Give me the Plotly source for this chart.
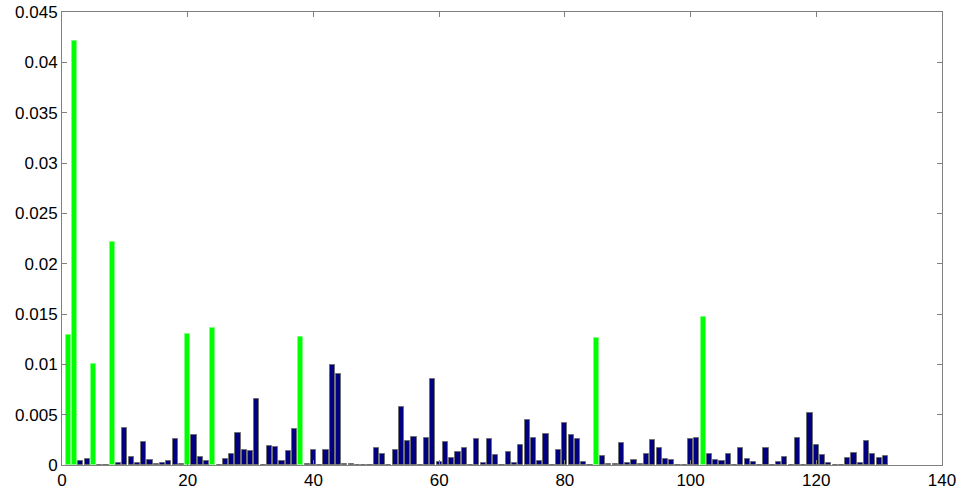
import plotly.graph_objects as go

# Bar indices 1..131
index = list(range(1, 132))

values = [
    0.0129, 0.0421, 0.00043, 0.0006, 0.0100, 0.00004, 0.00004, 0.0222, 0.0002, 0.00364,   # 1-10
    0.00076, 0.0002, 0.00228, 0.00053, 0.0001, 0.00023, 0.00043, 0.00255, 0.00013, 0.0130,  # 11-20
    0.00295, 0.00083, 0.00043, 0.0136, 0.00005, 0.0006, 0.00106, 0.00321, 0.00149, 0.00142,  # 21-30
    0.00659, 0.00004, 0.00189, 0.00182, 0.00043, 0.00139, 0.00354, 0.0127, 0.0001, 0.00146,  # 31-40
    0.00004, 0.00146, 0.00993, 0.00904, 0.0001, 0.0001, 0.00004, 0.00004, 0.00004, 0.00166,  # 41-50
    0.00113, 0.00004, 0.00146, 0.00573, 0.00235, 0.00275, 0.00004, 0.00272, 0.00854, 0.0003,  # 51-60
    0.00228, 0.0007, 0.00129, 0.00169, 0.00004, 0.00255, 0.0002, 0.00255, 0.00096, 0.00004,  # 61-70
    0.00129, 0.0002, 0.00195, 0.00447, 0.00272, 0.00043, 0.00308, 0.00004, 0.00149, 0.00417,  # 71-80
    0.00301, 0.00258, 0.00033, 0.00005, 0.0126, 0.00086, 0.0001, 0.0001, 0.00219, 0.0002,  # 81-90
    0.00046, 0.00013, 0.00113, 0.00245, 0.00166, 0.00056, 0.00053, 0.00004, 0.00004, 0.00258,  # 91-100
    0.00265, 0.0147, 0.00113, 0.00053, 0.00036, 0.00113, 0.00004, 0.00166, 0.00056, 0.0003,  # 101-110
    0.00004, 0.00169, 0.00005, 0.00026, 0.00083, 0.00004, 0.00265, 0.00004, 0.00513, 0.00199,  # 111-120
    0.00096, 0.0002, 0.00005, 0.00004, 0.0007, 0.00119, 0.0002, 0.00235, 0.00106, 0.00073,  # 121-130
    0.00086,  # 131
]

highlighted = [1, 2, 5, 8, 20, 24, 38, 85, 102]

x_ticks = [0, 20, 40, 60, 80, 100, 120, 140]
y_ticks = [0, 0.005, 0.01, 0.015, 0.02, 0.025, 0.03, 0.035, 0.04, 0.045]
y_tick_labels = ["0", "0.005", "0.01", "0.015", "0.02", "0.025", "0.03", "0.035", "0.04", "0.045"]

GREEN = "#00ff00"
NAVY = "#000080"

colors = [GREEN if i in highlighted else NAVY for i in index]
edge_colors = ["#7fff7f" if i in highlighted else "#707070" for i in index]

fig = go.Figure(
    go.Bar(
        x=index,
        y=values,
        width=0.8,
        marker=dict(color=colors, line=dict(color=edge_colors, width=1)),
        hoverinfo="x+y",
    )
)

axis_common = dict(
    showline=True,
    linecolor="#808080",
    linewidth=1,
    mirror="ticks",
    ticks="inside",
    ticklen=5,
    tickcolor="#808080",
    showgrid=False,
    zeroline=False,
    automargin=False,
    tickfont=dict(family="Liberation Sans, Arial, sans-serif", size=17, color="black"),
)

fig.update_layout(
    width=966,
    height=490,
    margin=dict(l=62, r=24, t=12, b=25),
    paper_bgcolor="white",
    plot_bgcolor="white",
    showlegend=False,
    bargap=0,
    xaxis=dict(range=[0, 140], tickvals=x_ticks, ticktext=[str(v) for v in x_ticks], **axis_common),
    yaxis=dict(range=[0, 0.045], tickvals=y_ticks, ticktext=y_tick_labels, **axis_common),
)

fig.write_html("out.html")
